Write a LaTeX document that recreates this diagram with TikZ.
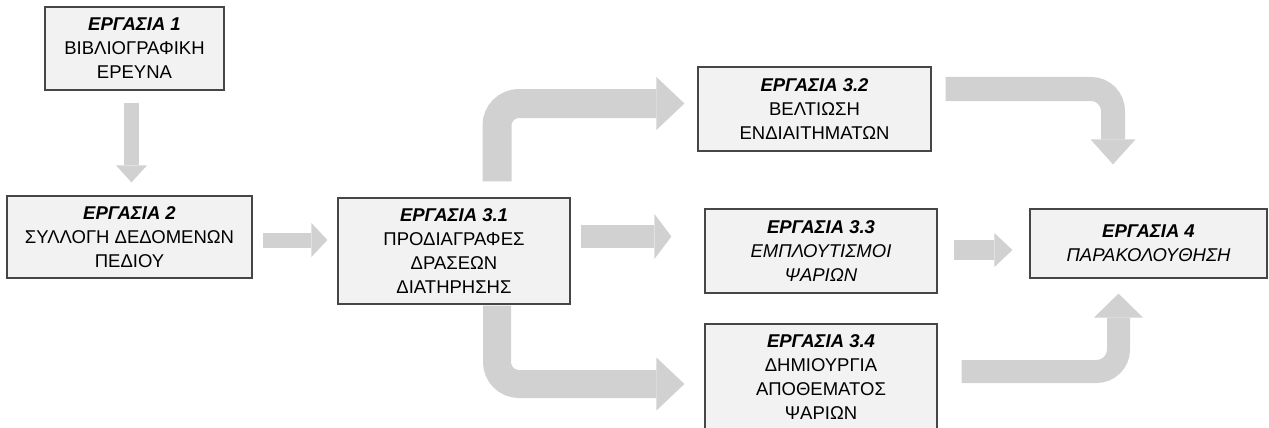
\documentclass[tikz,border=0pt]{standalone}
\usepackage{fontspec}
\setmainfont{Liberation Sans}
\usetikzlibrary{arrows.meta,calc}
\definecolor{arrowgray}{RGB}{209,209,210}
\definecolor{boxfill}{RGB}{242,242,242}
\definecolor{boxline}{RGB}{70,70,70}
\tikzset{
  taskbox/.style={draw=boxline, fill=boxfill, line width=1.2pt, align=center,
    inner sep=0pt, font=\fontsize{18.5}{24}\selectfont},
  fat/.style n args={3}{draw=arrowgray, line width=#1pt, rounded corners=22pt,
    -{Triangle[length=#2pt 0 0, width=#3pt 0 0, line width=0pt 0 0]}},
}
\begin{document}
\begin{tikzpicture}[x=1pt,y=-1pt]
\useasboundingbox (0,0) rectangle (1269,428);
\node[taskbox, minimum width=179pt, minimum height=83pt] (b1) at (134.5,48.5)
  {\textbf{\textit{ΕΡΓΑΣΙΑ 1}}\\ΒΙΒΛΙΟΓΡΑΦΙΚΗ\\ΕΡΕΥΝΑ};
\node[taskbox, minimum width=245pt, minimum height=82pt] (b2) at (129.5,237)
  {\textbf{\textit{ΕΡΓΑΣΙΑ 2}}\\ΣΥΛΛΟΓΗ ΔΕΔΟΜΕΝΩΝ\\ΠΕΔΙΟΥ};
\node[taskbox, minimum width=232pt, minimum height=106pt] (b31) at (454,251)
  {\textbf{\textit{ΕΡΓΑΣΙΑ 3.1}}\\ΠΡΟΔΙΑΓΡΑΦΕΣ\\ΔΡΑΣΕΩΝ\\ΔΙΑΤΗΡΗΣΗΣ};
\node[taskbox, minimum width=233pt, minimum height=84pt] (b32) at (814.5,109)
  {\textbf{\textit{ΕΡΓΑΣΙΑ 3.2}}\\ΒΕΛΤΙΩΣΗ\\ΕΝΔΙΑΙΤΗΜΑΤΩΝ};
\node[taskbox, minimum width=232pt, minimum height=84pt] (b33) at (821,251)
  {\textbf{\textit{ΕΡΓΑΣΙΑ 3.3}}\\\textit{ΕΜΠΛΟΥΤΙΣΜΟΙ}\\\textit{ΨΑΡΙΩΝ}};
\node[taskbox, minimum width=232pt, minimum height=106pt] (b34) at (821,377)
  {\textbf{\textit{ΕΡΓΑΣΙΑ 3.4}}\\ΔΗΜΙΟΥΡΓΙΑ\\ΑΠΟΘΕΜΑΤΟΣ\\ΨΑΡΙΩΝ};
\node[taskbox, minimum width=237pt, minimum height=69pt] (b4) at (1148.5,243.5)
  {\textbf{\textit{ΕΡΓΑΣΙΑ 4}}\\\textit{ΠΑΡΑΚΟΛΟΥΘΗΣΗ}};

\draw[fat={15}{17}{31}] ($(b1.south)+(-3,12)$) -- ($(b2.north)+(2,-13)$);
\draw[fat={15}{16}{34}] ($(b2.east)+(10,3)$) -- ($(b31.west)+(-10,-11)$);
\draw[fat={23}{17}{45}] ($(b31.east)+(10,-14.5)$) -- ($(b33.west)+(-33,-14.5)$);
\draw[fat={20}{18}{34}] ($(b33.east)+(16,-1)$) -- ($(b4.west)+(-17,6.5)$);
\draw[fat={29}{28}{53}] ($(b31.north)+(43,-16)$) |- ($(b32.west)+(-13,-5.5)$);
\draw[fat={28}{28}{53}] ($(b31.south)+(43,1)$) |- ($(b34.west)+(-20,7)$);
\draw[fat={24}{25}{45}] ($(b32.east)+(14,-20)$) -| ($(b4.north)+(-35.5,-44)$);
\draw[fat={23}{24}{49}] ($(b34.east)+(24,-5.5)$) -| ($(b4.south)+(-30,15)$);
\end{tikzpicture}
\end{document}
